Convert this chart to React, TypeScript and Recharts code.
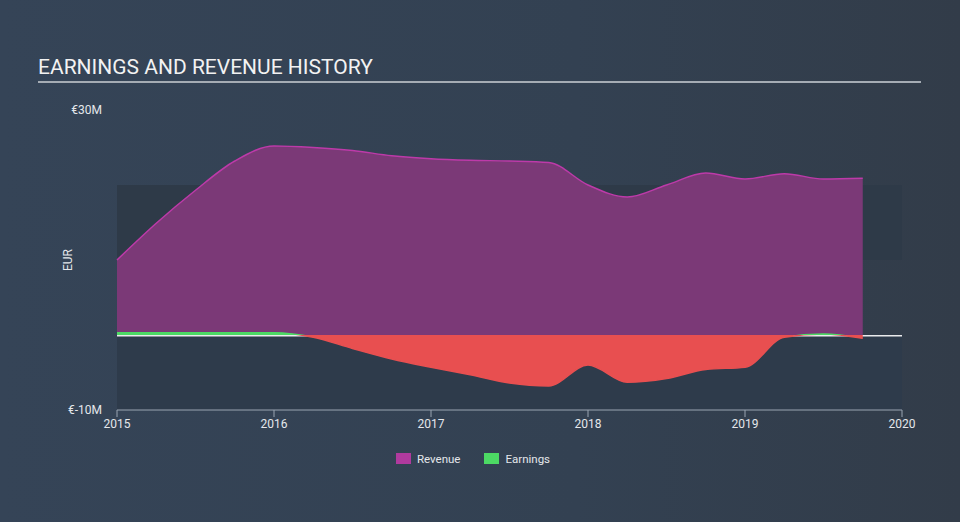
import React from 'react';
import {
  Area,
  ComposedChart,
  Legend,
  ReferenceArea,
  XAxis,
  YAxis,
} from 'recharts';

const years = [
  2015, 2015.25, 2015.5, 2015.75, 2016, 2016.25, 2016.5, 2016.75, 2017, 2017.25,
  2017.5, 2017.75, 2018, 2018.25, 2018.5, 2018.75, 2019, 2019.25, 2019.5, 2019.75,
];
const revenue = [
  10.0, 14.9, 19.3, 23.2, 25.2, 25.0, 24.6, 23.9, 23.5, 23.3,
  23.2, 23.0, 20.0, 18.4, 20.0, 21.6, 20.8, 21.5, 20.8, 20.9,
];
const earnings = [
  0.3, 0.3, 0.3, 0.3, 0.3, -0.3, -1.8, -3.2, -4.3, -5.3,
  -6.4, -6.8, -4.0, -6.3, -5.8, -4.6, -4.3, -0.3, 0.12, -0.45,
];
const xTicks = [2015, 2016, 2017, 2018, 2019, 2020];
const yTicks = [-10, 30];
const series = [
  { key: 'revenue', name: 'Revenue', color: '#b03a9e' },
  { key: 'earnings', name: 'Earnings', color: '#4cd964' },
];

const data = years.map((year, i) => ({ year, revenue: revenue[i], earnings: earnings[i] }));

const eMax = Math.max(...earnings);
const eMin = Math.min(...earnings);
const splitOffset = eMax / (eMax - eMin);

const font = 'Roboto, "DejaVu Sans", sans-serif';

function LegendContent() {
  return (
    <div style={{ display: 'flex', justifyContent: 'center', fontFamily: font, fontSize: 11.5, color: '#e4e7eb', height: 15 }}>
      {series.map((s) => (
        <div key={s.key} style={{ display: 'flex', alignItems: 'center', margin: '0 12px' }}>
          <span style={{ display: 'inline-block', width: 15, height: 11, background: s.color, marginRight: 6 }} />
          {s.name}
        </div>
      ))}
    </div>
  );
}

export default function App() {
  return (
    <div
      style={{
        position: 'absolute',
        left: 0,
        top: 0,
        width: 960,
        height: 522,
        background: 'linear-gradient(90deg, #354457 0%, #334152 60%, #323c49 100%)',
        overflow: 'hidden',
      }}
    >
      <div
        style={{
          position: 'absolute',
          left: 38,
          top: 55,
          fontFamily: font,
          fontSize: 21,
          color: '#f2f2f2',
          lineHeight: '24px',
        }}
      >
        EARNINGS AND REVENUE HISTORY
      </div>
      <div style={{ position: 'absolute', left: 38, top: 81, width: 883, height: 2, background: '#a5acb4' }} />
      <ComposedChart
        width={960}
        height={522}
        data={data}
        margin={{ top: 110, right: 58, bottom: 67, left: 57 }}
        style={{ position: 'absolute', left: 0, top: 0 }}
      >
        <defs>
          <linearGradient id="earnSplit" x1="0" y1="0" x2="0" y2="1">
            <stop offset={splitOffset} stopColor="#4cd964" />
            <stop offset={splitOffset} stopColor="#e84f50" />
          </linearGradient>
        </defs>
        <ReferenceArea y1={10} y2={20} x1={2015} x2={2020} fill="#2e3a48" fillOpacity={1} stroke="none" />
        <ReferenceArea y1={-10} y2={0} x1={2015} x2={2020} fill="#2e3b4b" fillOpacity={1} stroke="none" />
        {/* zero line, kept under the series */}
        <ReferenceArea y1={-0.2} y2={0} x1={2015} x2={2020} fill="#ffffff" fillOpacity={0.9} stroke="none" />
        <XAxis
          dataKey="year"
          type="number"
          domain={[2015, 2020]}
          ticks={xTicks}
          height={30}
          stroke="#9aa5b2"
          tickSize={7}
          tick={{ fill: '#e4e7eb', fontSize: 12, fontFamily: font }}
          tickMargin={2}
        />
        <YAxis
          domain={[-10, 30]}
          ticks={yTicks}
          width={60}
          axisLine={false}
          tickLine={false}
          tickSize={0}
          tickMargin={15}
          tickFormatter={(v: number) => `€${v}M`}
          tick={{ fill: '#e4e7eb', fontSize: 12, fontFamily: font }}
          label={{
            value: 'EUR',
            angle: -90,
            position: 'insideLeft',
            offset: 11,
            style: { fill: '#e4e7eb', fontSize: 12, fontFamily: font, textAnchor: 'middle' },
          }}
        />
        <Area
          type="monotone"
          dataKey="revenue"
          name="Revenue"
          stroke="#bd3aa9"
          strokeWidth={1.5}
          fill="#7b3977"
          fillOpacity={1}
          isAnimationActive={false}
          dot={false}
          activeDot={false}
        />
        <Area
          type="monotone"
          dataKey="earnings"
          name="Earnings"
          stroke="url(#earnSplit)"
          strokeWidth={1.5}
          fill="url(#earnSplit)"
          fillOpacity={1}
          isAnimationActive={false}
          dot={false}
          activeDot={false}
        />
        <Legend
          content={<LegendContent />}
          wrapperStyle={{ position: 'absolute', top: 451, left: -7, width: 960 }}
        />
      </ComposedChart>
    </div>
  );
}
